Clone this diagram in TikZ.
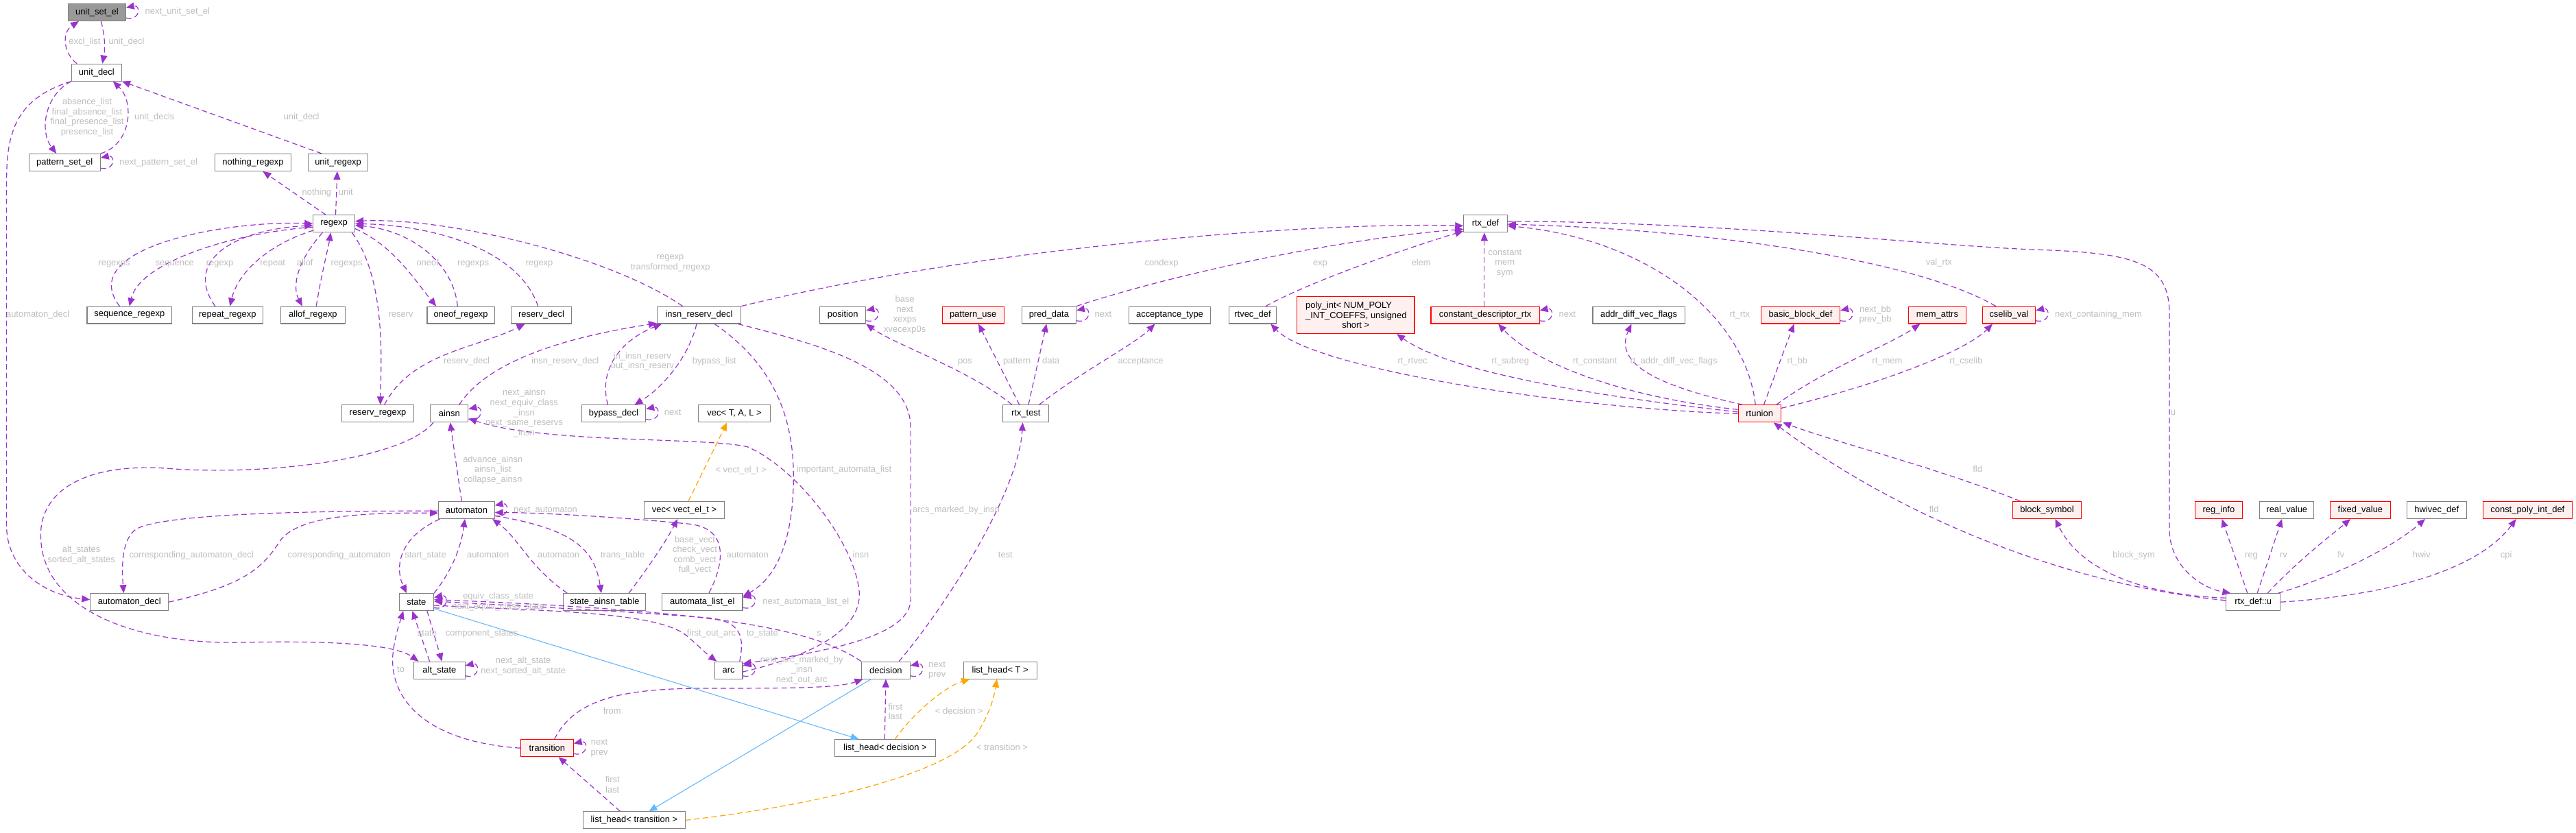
\documentclass[tikz,border=0pt]{standalone}
\usepackage{fontspec}
\newfontfamily\dgfam{Liberation Sans}
\newcommand\dgfont{\dgfam\fontsize{5.4}{6.1}\selectfont}
\usetikzlibrary{arrows.meta,calc}
\definecolor{purp}{HTML}{9A32CD}
\definecolor{orng}{HTML}{FFA500}
\definecolor{blu}{HTML}{63B8FF}
\definecolor{boxgray}{HTML}{808080}
\definecolor{lblgray}{HTML}{BEBEBE}
\definecolor{redfill}{HTML}{FFF0F0}
\definecolor{rootgray}{HTML}{999999}
\tikzset{
  bx/.style={draw=boxgray, line width=0.45pt, fill=white, inner sep=0pt, minimum height=10.4pt, font=\dgfont, text=black},
  rbx/.style={bx, draw=red, fill=redfill},
  lb/.style={font=\dgfont, text=lblgray, inner sep=0pt, text height=4pt, text depth=1.2pt},
  ml/.style={font=\dgfont, text=lblgray, inner sep=0pt, align=center},
  pe/.style={draw=purp, line width=0.5pt, dash pattern=on 3.3pt off 2pt, -{Triangle[length=5pt,width=4.2pt]}},
  oe/.style={pe, draw=orng},
  be/.style={draw=blu, line width=0.45pt, -{Triangle[length=5pt,width=4.2pt]}},
}
\newcommand\dgloop[1]{\draw[pe] ($(#1.south east)+(0,-2)$) .. controls +(9,2) and +(9,-2) .. ($(#1.north east)+(0,2.6)$);}
\begin{document}
\begin{tikzpicture}[x=1pt,y=-1pt]
\fill[white] (0,0) rectangle (1568,507);
\useasboundingbox (0,0) rectangle (1568,507);

% ---------------- nodes ----------------
\node[bx,fill=rootgray,minimum width=35pt] (use) at (59,7.5) {unit\_set\_el};
\node[bx,minimum width=30.5pt] (ud) at (58.8,44.1) {unit\_decl};
\node[bx,minimum width=43.5pt] (pse) at (39.3,98.9) {pattern\_set\_el};
\node[bx,minimum width=46pt] (nre) at (154,98.9) {nothing\_regexp};
\node[bx,minimum width=36.4pt] (ure) at (205.8,98.9) {unit\_regexp};
\node[bx,minimum width=25.4pt] (rgx) at (203.3,136.2) {regexp};
\node[bx,minimum width=26.5pt] (rtxdef) at (904.2,136.2) {rtx\_def};

\node[bx,minimum width=51.6pt] (seq) at (78.8,191.8) {sequence\_regexp};
\node[bx,minimum width=43pt] (rep) at (138.5,191.8) {repeat\_regexp};
\node[bx,minimum width=39pt] (allof) at (190.5,191.8) {allof\_regexp};
\node[bx,minimum width=41pt] (oneof) at (280.5,191.8) {oneof\_regexp};
\node[bx,minimum width=37pt] (rsd) at (329.5,191.8) {reserv\_decl};
\node[bx,minimum width=51pt] (ird) at (425.5,191.8) {insn\_reserv\_decl};
\node[bx,minimum width=28pt] (pos) at (513,191.8) {position};
\node[rbx,minimum width=37.5pt] (pu) at (592.3,191.8) {pattern\_use};
\node[bx,minimum width=33pt] (pd) at (638.5,191.8) {pred\_data};
\node[bx,minimum width=50pt] (acc) at (712,191.8) {acceptance\_type};
\node[bx,minimum width=29pt] (rvd) at (762.5,191.8) {rtvec\_def};
\node[rbx,minimum width=71.6pt,minimum height=22.5pt,align=center] (pint) at (825.2,191.8)
  {\makebox[61pt][l]{poly\_int< NUM\_POLY}\\\makebox[61pt][l]{\_INT\_COEFFS, unsigned}\\short >};
\node[rbx,minimum width=66pt] (cdr) at (904,191.8) {constant\_descriptor\_rtx};
\node[bx,minimum width=56pt] (adv) at (997.5,191.8) {addr\_diff\_vec\_flags};
\node[rbx,minimum width=48pt] (bbd) at (1096,191.8) {basic\_block\_def};
\node[rbx,minimum width=35pt] (ma) at (1179.2,191.8) {mem\_attrs};
\node[rbx,minimum width=32.3pt] (cv) at (1222.8,191.8) {cselib\_val};

\node[bx,minimum width=44pt] (rsr) at (230,251.8) {reserv\_regexp};
\node[bx,minimum width=23pt] (ain) at (273.5,251.8) {ainsn};
\node[bx,minimum width=39pt] (byp) at (373.5,251.8) {bypass\_decl};
\node[bx,minimum width=44pt] (vtal) at (447,251.8) {vec< T, A, L >};
\node[bx,minimum width=28pt] (rtt) at (624.5,251.8) {rtx\_test};
\node[rbx,minimum width=26pt] (run) at (1071,251.8) {rtunion};

\node[bx,minimum width=34pt] (aut) at (284,310.5) {automaton};
\node[bx,minimum width=49pt] (vve) at (416.5,310.5) {vec< vect\_el\_t >};
\node[rbx,minimum width=42pt] (bs) at (1246,310.5) {block\_symbol};
\node[rbx,minimum width=29pt] (ri) at (1350.5,310.5) {reg\_info};
\node[bx,minimum width=33pt] (rval) at (1392,310.5) {real\_value};
\node[rbx,minimum width=36.6pt] (fxv) at (1436.7,310.5) {fixed\_value};
\node[bx,minimum width=36.5pt] (hw) at (1483.2,310.5) {hwivec\_def};
\node[rbx,minimum width=54pt] (cpi) at (1538.5,310.5) {const\_poly\_int\_def};

\node[bx,minimum width=47.6pt] (ad) at (78.8,366.5) {automaton\_decl};
\node[bx,minimum width=21pt] (st) at (253.5,366.5) {state};
\node[bx,minimum width=50pt] (sat) at (368,366.5) {state\_ainsn\_table};
\node[bx,minimum width=49pt] (ale) at (427.5,366.5) {automata\_list\_el};
\node[bx,minimum width=33pt] (rxu) at (1371.5,366.5) {rtx\_def::u};

\node[bx,minimum width=31pt] (als) at (267.5,408) {alt\_state};
\node[bx,minimum width=17pt] (arc) at (443.5,408) {arc};
\node[bx,minimum width=29.5pt] (dec) at (539.2,408) {decision};
\node[bx,minimum width=44.5pt] (lht) at (608.8,408) {list\_head< T >};

\node[rbx,minimum width=32pt] (tr) at (333,455.4) {transition};
\node[bx,minimum width=61.5pt] (lhd) at (538.8,455.4) {list\_head< decision >};
\node[bx,minimum width=62pt] (lhtr) at (386,499.3) {list\_head< transition >};

% ---------------- edges ----------------
\dgloop{use}
\draw[pe] ($(ud.north)+(-12,0)$) .. controls (39,33) and (37,20) .. ($(use.south)+(-11,0)$);
\draw[pe] ($(use.south)+(2.5,0)$) .. controls (64,22) and (64,30) .. ($(ud.north)+(3.5,0)$);
\draw[pe] (ud.south west) .. controls (27,58) and (24,80) .. ($(pse.north)+(-5,0)$);
\draw[pe] (pse.north east) .. controls (80,88) and (82,62) .. ($(ud.south)+(10,0)$);
\dgloop{pse}
\draw[pe] ($(ure.north)+(-10,0)$) -- (ud.south east);
\draw[pe] ($(rgx.north)+(-5,0)$) -- ($(nre.south)+(6,0)$);
\draw[pe] ($(rgx.north)+(1,0)$) -- ($(ure.south)+(-0.5,0)$);

\draw[pe] ($(seq.north)+(-6,0)$) .. controls (45,150) and (140,134) .. (rgx.west);
\draw[pe] ($(rgx.west)+(0,2)$) .. controls (140,142) and (85,160) .. (seq.north);
\draw[pe] ($(rep.north)+(-7.5,0)$) .. controls (112,160) and (140,140) .. ($(rgx.west)+(0,1)$);
\draw[pe] ($(rgx.west)+(0.5,4)$) .. controls (165,148) and (145,165) .. ($(rep.north)+(1.5,0)$);
\draw[pe] ($(rgx.south)+(-7,0)$) .. controls (180,160) and (178,175) .. ($(allof.north)+(-6.5,0)$);
\draw[pe] ($(allof.north)+(2,0)$) .. controls (196,165) and (200,150) .. ($(rgx.south)+(-2,0)$);
\draw[pe] ($(rgx.south)+(11,0)$) .. controls (235,170) and (232,220) .. ($(rsr.north)+(1.5,0)$);
\draw[pe] ($(rgx.east)+(0,3)$) .. controls (240,150) and (252,170) .. ($(oneof.north)+(-15,0)$);
\draw[pe] ($(oneof.north)+(-2,0)$) .. controls (276,160) and (250,140) .. ($(rgx.east)+(0,1)$);
\draw[pe] ($(rsd.north)+(-2,0)$) .. controls (315,150) and (260,137) .. (rgx.east);
\draw[pe] ($(ird.north)+(-10,0)$) .. controls (370,155) and (270,132) .. ($(rgx.east)+(0,-1.5)$);

\draw[pe] ($(rsr.north)+(4,0)$) .. controls (250,215) and (290,212) .. ($(rsd.south)+(-10,0)$);
\draw[pe] ($(ain.north)+(6,0)$) .. controls (300,215) and (360,203) .. ($(ird.south west)+(0,-0.5)$);
\draw[pe] ($(byp.north)+(-3.5,0)$) .. controls (364,225) and (378,207) .. ($(ird.south west)+(3,0)$);
\draw[pe] ($(ird.south)+(-1.5,0)$) .. controls (420,215) and (405,235) .. ($(byp.north east)+(-7,0)$);
\dgloop{byp}
\dgloop{ain}
\draw[pe] ($(ird.south)+(9.5,0)$) .. controls (468,220) and (483,250) .. (483,290) .. controls (483,330) and (472,352) .. ($(ale.north east)+(0,2)$);
\dgloop{ale}
\draw[pe] ($(ale.north)+(4,0)$) .. controls (440,345) and (445,322) .. (420,319) .. controls (380,315) and (330,312) .. ($(aut.east)+(0,1.5)$);
\draw[pe] ($(sat.north east)+(-10.5,0)$) .. controls (395,345) and (405,330) .. ($(vve.south)+(-4,0)$);
\draw[oe] ($(vve.north)+(2.5,0)$) -- ($(vtal.south)+(-4.5,0)$);
\draw[pe] ($(aut.north)+(-3,0)$) -- ($(ain.south)+(0.5,0)$);
\dgloop{aut}
\draw[pe] ($(aut.south west)+(1,0)$) .. controls (243,327) and (240,345) .. ($(st.north)+(-6,0)$);
\draw[pe] (st.north east) .. controls (277,345) and (281,330) .. ($(aut.south)+(-1,0)$);
\draw[pe] ($(sat.north west)+(2.5,0)$) .. controls (322,345) and (316,328) .. ($(aut.south east)+(-1.5,0)$);
\draw[pe] ($(aut.east)+(0,3.5)$) .. controls (350,322) and (362,335) .. ($(sat.north)+(-2,0)$);
\draw[pe] ($(aut.west)+(0,0.5)$) .. controls (180,311) and (100,313) .. (83,322) .. controls (74,328) and (74,345) .. ($(ad.north)+(-3.5,0)$);
\draw[pe] (ad.east) .. controls (150,356) and (160,345) .. (170,330) .. controls (180,314) and (220,312) .. ($(aut.west)+(0,1.8)$);
\draw[pe] (ud.south west) .. controls (10,60) and (4,80) .. (4,110) -- (4,320) .. controls (4,345) and (25,362) .. ($(ad.west)+(0,-1.5)$);
\draw[pe] ($(ain.south west)+(2,0)$) .. controls (245,280) and (160,290) .. (100,285) .. controls (50,282) and (22,300) .. (25,330) .. controls (28,370) and (80,393) .. (150,391) .. controls (200,390) and (240,392) .. ($(als.north west)+(3,0)$);

\draw[pe] ($(als.north)+(-6,0)$) -- ($(st.south)+(-2.5,0)$);
\draw[pe] ($(st.south)+(6.5,0)$) -- ($(als.north)+(1.5,0)$);
\draw[pe] (tr.west) .. controls (265,452) and (238,430) .. (239,400) .. controls (240,388) and (243,380) .. ($(st.south)+(-8,0)$);
\dgloop{als}
\dgloop{st}
\draw[pe] ($(st.east)+(0,2)$) .. controls (330,372) and (400,372) .. (418,387) .. controls (425,393) and (430,398) .. ($(arc.north west)+(1.5,0)$);
\draw[pe] ($(arc.north east)+(-2,0)$) .. controls (453,388) and (452,378) .. (430,376) .. controls (380,372) and (300,368) .. ($(st.east)+(0,-0.5)$);
\draw[pe] (dec.north west) .. controls (495,383) and (440,372) .. ($(st.east)+(0,-1.5)$);
\draw[pe] ($(arc.east)+(0,1)$) .. controls (490,400) and (525,385) .. (523,360) .. controls (520,330) and (485,285) .. (455,272) .. controls (430,266) and (330,270) .. ($(ain.east)+(0,3)$);
\draw[pe] ($(ird.south east)+(-2,0)$) .. controls (500,210) and (554,225) .. (554.3,260) -- (554.3,365) .. controls (554,388) and (500,397) .. ($(arc.east)+(0,-4)$);
\dgloop{arc}
\draw[pe] ($(tr.north)+(4.5,0)$) .. controls (350,425) and (380,419) .. (430,419) .. controls (480,419) and (510,419) .. ($(dec.south west)+(1,0)$);
\draw[pe] ($(lhd.north)+(-0.3,0)$) -- (dec.south);
\draw[pe] ($(lhtr.north)+(-8.5,0)$) -- ($(tr.south)+(7,0)$);
\draw[be] ($(st.east)+(0,4)$) -- ($(lhd.north)+(-16,0)$);
\draw[be] ($(dec.south)+(-9,0)$) -- ($(lhtr.north)+(9,0)$);
\draw[oe] ($(lhd.north)+(6,0)$) .. controls (555,435) and (575,418) .. ($(lht.south west)+(4,0)$);
\draw[oe] (lhtr.east) .. controls (500,490) and (580,470) .. (595,446) .. controls (602,435) and (605,425) .. ($(lht.south)+(-2,0)$);
\dgloop{dec}
\dgloop{tr}
\draw[pe] ($(dec.north)+(8,0)$) .. controls (575,370) and (620,300) .. ($(rtt.south)+(-2,0)$);

\draw[pe] ($(rtt.north)+(-8.5,0)$) .. controls (590,225) and (545,210) .. (pos.south east);
\draw[pe] ($(rtt.north)+(-4,0)$) -- ($(pu.south)+(3.3,0)$);
\draw[pe] ($(rtt.north)+(1.5,0)$) -- ($(pd.south)+(-1.5,0)$);
\draw[pe] ($(rtt.north)+(8,0)$) .. controls (660,225) and (690,210) .. ($(acc.south)+(-9,0)$);
\dgloop{pos}
\dgloop{pd}

\draw[pe] (ird.north east) .. controls (600,150) and (800,135) .. ($(rtxdef.west)+(0,1.3)$);
\draw[pe] (pd.north east) .. controls (720,165) and (820,145) .. ($(rtxdef.west)+(0,3.3)$);
\draw[pe] ($(rvd.north)+(8,0)$) .. controls (800,170) and (860,150) .. ($(rtxdef.south west)+(0,-1)$);
\draw[pe] ($(cdr.north)+(-0.5,0)$) -- ($(rtxdef.south)+(-0.7,0)$);
\dgloop{cdr}
\draw[pe] ($(run.north)+(-2.5,0)$) .. controls (1062,190) and (1000,145) .. ($(rtxdef.east)+(0,1.3)$);
\draw[pe] ($(cv.north)+(-8,0)$) .. controls (1170,160) and (1050,140) .. ($(rtxdef.east)+(0,0.3)$);
\draw[pe] ($(rtxdef.east)+(0,-1.5)$) .. controls (1050,135) and (1180,150) .. (1240,152) .. controls (1300,154) and (1320,160) .. (1320.5,190) -- (1320.5,323) .. controls (1321,345) and (1340,358) .. ($(rxu.north west)+(3,0)$);
\draw[pe] (run.west) .. controls (960,249) and (800,225) .. ($(rvd.south)+(11,0)$);
\draw[pe] ($(run.west)+(0,-1)$) .. controls (960,240) and (880,225) .. ($(pint.south)+(25,0)$);
\draw[pe] ($(run.west)+(0,-2.5)$) .. controls (990,242) and (935,222) .. ($(cdr.south)+(8,0)$);
\draw[pe] ($(run.north west)+(3,0)$) .. controls (1010,235) and (982,222) .. ($(adv.south)+(-4.5,0)$);
\draw[pe] ($(run.north)+(2.6,0)$) -- ($(bbd.south)+(-4,0)$);
\dgloop{bbd}
\draw[pe] ($(run.north east)+(-3,0)$) .. controls (1110,225) and (1150,210) .. ($(ma.south)+(-10.5,0)$);
\draw[pe] ($(run.east)+(0,-3.3)$) .. controls (1140,235) and (1195,215) .. ($(cv.south)+(-10,0)$);
\dgloop{cv}
\draw[pe] ($(bs.north west)+(5,0)$) .. controls (1180,285) and (1120,270) .. ($(run.south east)+(1,0)$);
\draw[pe] ($(rxu.west)+(0,-1)$) .. controls (1250,355) and (1150,310) .. ($(run.south)+(8.6,0)$);
\draw[pe] ($(rxu.west)+(0,-2.5)$) .. controls (1300,362) and (1265,345) .. ($(bs.south)+(5,0)$);
\draw[pe] ($(rxu.north)+(-3.5,0)$) -- ($(ri.south)+(2,0)$);
\draw[pe] ($(rxu.north)+(2.5,0)$) -- ($(rval.south)+(-3,0)$);
\draw[pe] ($(rxu.north east)+(-8,0)$) .. controls (1400,340) and (1420,325) .. ($(fxv.south)+(-6,0)$);
\draw[pe] ($(rxu.north east)+(-1.5,0)$) .. controls (1430,348) and (1460,330) .. ($(hw.south)+(-7,0)$);
\draw[pe] (rxu.east) .. controls (1460,362) and (1510,345) .. ($(cpi.south)+(-7,0)$);

% ---------------- labels ----------------
\node[lb] (l1) at (108,7) {next\_unit\_set\_el};
\node[lb] (l2) at (51.5,25.5) {excl\_list};
\node[lb] (l3) at (77,25.5) {unit\_decl};
\node[ml] (l4) at (53,71.4) {absence\_list\\final\_absence\_list\\final\_presence\_list\\presence\_list};
\node[lb] (l5) at (94,71.4) {unit\_decls};
\node[lb] (l6) at (96.5,99) {next\_pattern\_set\_el};
\node[lb] (l7) at (183.5,71.4) {unit\_decl};
\node[lb] (l8) at (192.8,117.3) {nothing};
\node[lb] (l9) at (210.5,117.3) {unit};
\node[lb] (l10) at (69.5,160.3) {regexps};
\node[lb] (l11) at (106.3,160.3) {sequence};
\node[lb] (l12) at (133.8,160.3) {regexp};
\node[lb] (l13) at (166,160.3) {repeat};
\node[lb] (l14) at (185.6,160.3) {allof};
\node[lb] (l15) at (211,160.3) {regexps};
\node[lb] (l16) at (244,191.6) {reserv};
\node[lb] (l17) at (260.3,160.3) {oneof};
\node[lb] (l18) at (288,160.3) {regexps};
\node[lb] (l19) at (328.3,160.3) {regexp};
\node[ml] (l20) at (408,160.3) {regexp\\transformed\_regexp};
\node[lb] (l21) at (23,191.6) {automaton\_decl};
\node[lb] (l22) at (284,220) {reserv\_decl};
\node[lb] (l23) at (344,220) {insn\_reserv\_decl};
\node[ml] (l24) at (391,220) {in\_insn\_reserv\\out\_insn\_reserv};
\node[lb] (l25) at (434.8,220) {bypass\_list};
\node[lb] (l26) at (409.5,251.4) {next};
\node[ml] (l27) at (319,251.5) {next\_ainsn\\next\_equiv\_class\\\_insn\\next\_same\_reservs\\\_insn};
\node[lb] (l28) at (524,338) {insn};
\node[lb] (l29) at (582,310.5) {arcs\_marked\_by\_insn};
\node[lb] (l30) at (513.8,286) {important\_automata\_list};
\node[lb] (l31) at (490.5,366.5) {next\_automata\_list\_el};
\node[lb] (l32) at (455,338) {automaton};
\node[ml] (l33) at (423,337.9) {base\_vect\\check\_vect\\comb\_vect\\full\_vect};
\node[lb] (l34) at (451,286.3) {< vect\_el\_t >};
\node[ml] (l35) at (300,286) {advance\_ainsn\\ainsn\_list\\collapse\_ainsn};
\node[lb] (l36) at (332,310.5) {next\_automaton};
\node[lb] (l37) at (259,338) {start\_state};
\node[lb] (l38) at (297,338) {automaton};
\node[lb] (l39) at (340,338) {automaton};
\node[lb] (l40) at (379,338) {trans\_table};
\node[lb] (l41) at (116.5,338) {corresponding\_automaton\_decl};
\node[lb] (l42) at (206.5,338) {corresponding\_automaton};
\node[ml] (l43) at (49.5,338) {alt\_states\\sorted\_alt\_states};
\node[lb] (l44) at (244,408) {to};
\node[lb] (l45) at (260,385.5) {state};
\node[lb] (l46) at (293.3,385.5) {component\_states};
\node[ml] (l47) at (318.5,405.6) {next\_alt\_state\\next\_sorted\_alt\_state};
\node[ml] (l48) at (303.3,366.3) {equiv\_class\_state\\next\_equiv\_class\_state};
\node[lb] (l49) at (433,385.5) {first\_out\_arc};
\node[lb] (l50) at (464,385.5) {to\_state};
\node[lb] (l51) at (498.6,385.5) {s};
\node[ml] (l52) at (488,407.9) {next\_arc\_marked\_by\\\_insn\\next\_out\_arc};
\node[lb] (l53) at (372.6,433.2) {from};
\node[ml] (l54) at (364.8,455.5) {next\\prev};
\node[ml] (l55) at (570.4,408) {next\\prev};
\node[ml] (l56) at (545,433.2) {first\\last};
\node[ml] (l57) at (372.8,477.5) {first\\last};
\node[lb] (l58) at (583.8,433.2) {< decision >};
\node[lb] (l59) at (610,455.4) {< transition >};
\node[lb] (l60) at (612,338) {test};
\node[lb] (l61) at (587.4,220) {pos};
\node[lb] (l62) at (619,220) {pattern};
\node[lb] (l63) at (639.7,220) {data};
\node[lb] (l64) at (694.3,220) {acceptance};
\node[ml] (l65) at (550.8,191.7) {base\\next\\xexps\\xvecexp0s};
\node[lb] (l66) at (671.5,191.6) {next};
\node[lb] (l67) at (707,160.3) {condexp};
\node[lb] (l68) at (803.6,160.5) {exp};
\node[lb] (l69) at (865,160.5) {elem};
\node[ml] (l70) at (916,160.3) {constant\\mem\\sym};
\node[lb] (l71) at (954,191.8) {next};
\node[lb] (l72) at (1059,191.8) {rt\_rtx};
\node[lb] (l73) at (1180.2,160) {val\_rtx};
\node[lb] (l74) at (1322.8,251.5) {u};
\node[lb] (l75) at (859.8,220) {rt\_rtvec};
\node[lb] (l76) at (919.3,220) {rt\_subreg};
\node[lb] (l77) at (970.8,220) {rt\_constant};
\node[lb] (l78) at (1018.8,220) {rt\_addr\_diff\_vec\_flags};
\node[lb] (l79) at (1094,220) {rt\_bb};
\node[ml] (l80) at (1141.5,191.7) {next\_bb\\prev\_bb};
\node[lb] (l81) at (1148.7,220) {rt\_mem};
\node[lb] (l82) at (1196.7,220) {rt\_cselib};
\node[lb] (l83) at (1277.3,191.8) {next\_containing\_mem};
\node[lb] (l84) at (1203.7,286) {fld};
\node[lb] (l85) at (1177.2,310.6) {fld};
\node[lb] (l86) at (1298.8,338) {block\_sym};
\node[lb] (l87) at (1370.4,338) {reg};
\node[lb] (l88) at (1390,338) {rv};
\node[lb] (l89) at (1425,338) {fv};
\node[lb] (l90) at (1474,338) {hwiv};
\node[lb] (l91) at (1525.5,338) {cpi};
\end{tikzpicture}
\end{document}
